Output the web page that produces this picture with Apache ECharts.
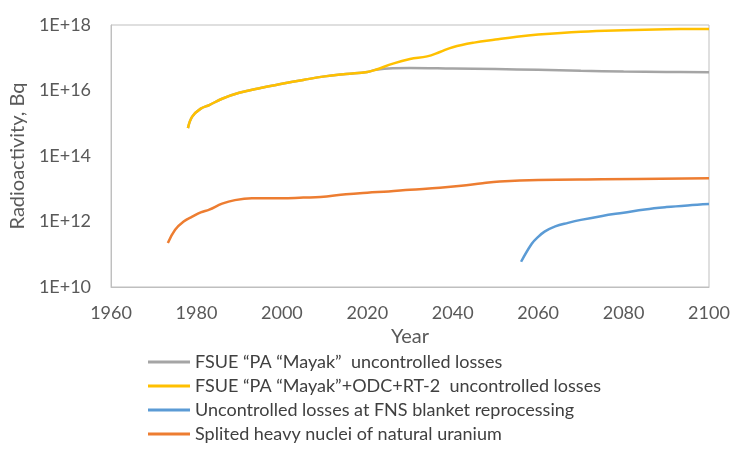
<!DOCTYPE html>
<html>
<head>
<meta charset="utf-8">
<script src="https://cdn.jsdelivr.net/npm/echarts@6/dist/echarts.min.js"></script>
<style>
  html, body { margin: 0; padding: 0; background: #fff; }
  #chart { width: 733px; height: 450px; }
</style>
</head>
<body>
<div id="chart"></div>
<script>
// Series names (legend order)
const seriesNames = [
  'FSUE \u201cPA \u201cMayak\u201d  uncontrolled losses',
  'FSUE \u201cPA \u201cMayak\u201d+ODC+RT-2  uncontrolled losses',
  'Uncontrolled losses at FNS blanket reprocessing',
  'Splited heavy nuclei of natural uranium'
];

// FSUE "PA "Mayak" uncontrolled losses, Bq
const mayakYears = [1978, 1979, 1981, 1983, 1986, 1990, 1995, 2000, 2005, 2010, 2015, 2020, 2022, 2026, 2030, 2040, 2050, 2060, 2070, 2080, 2090, 2100];
const mayakValues = [7.1e14, 1.6e15, 2.8e15, 3.6e15, 5.6e15, 8.5e15, 1.2e16, 1.6e16, 2.1e16, 2.7e16, 3.2e16, 3.7e16, 4.3e16, 4.8e16, 4.9e16, 4.7e16, 4.5e16, 4.3e16, 4.0e16, 3.8e16, 3.7e16, 3.6e16];

// FSUE "PA "Mayak"+ODC+RT-2 uncontrolled losses, Bq
const totalYears = [1978, 1979, 1981, 1983, 1986, 1990, 1995, 2000, 2005, 2010, 2015, 2020, 2022, 2026, 2030, 2034, 2037, 2040, 2045, 2050, 2055, 2060, 2070, 2080, 2090, 2100];
const totalValues = [7.1e14, 1.6e15, 2.8e15, 3.6e15, 5.6e15, 8.5e15, 1.2e16, 1.6e16, 2.1e16, 2.7e16, 3.2e16, 3.7e16, 4.3e16, 6.6e16, 9.1e16, 1.1e17, 1.5e17, 2.1e17, 2.9e17, 3.6e17, 4.4e17, 5.1e17, 6.2e17, 6.9e17, 7.4e17, 7.6e17];

// Uncontrolled losses at FNS blanket reprocessing, Bq
const fnsYears = [2056, 2058.5, 2060, 2061.5, 2064, 2067, 2070, 2075, 2080, 2085, 2090, 2095, 2100];
const fnsValues = [5.9e10, 2.1e11, 3.4e11, 4.9e11, 7.1e11, 9.1e11, 1.12e12, 1.48e12, 1.86e12, 2.34e12, 2.75e12, 3.1e12, 3.4e12];

// Splited heavy nuclei of natural uranium, Bq
const uraniumYears = [1973.3, 1975, 1977, 1979, 1981, 1983, 1986, 1989, 1993, 2000, 2005, 2009, 2015, 2020, 2025, 2030, 2037, 2042, 2047, 2051, 2060, 2075, 2100];
const uraniumValues = [2.2e11, 5.6e11, 1.0e12, 1.4e12, 1.9e12, 2.3e12, 3.5e12, 4.5e12, 5.1e12, 5.1e12, 5.4e12, 5.6e12, 6.8e12, 7.6e12, 8.3e12, 9.3e12, 1.07e13, 1.23e13, 1.48e13, 1.66e13, 1.86e13, 1.95e13, 2.1e13];

// Axis ranges
const xMin = 1960, xMax = 2100, xStep = 20;
const yMin = 1e10, yMax = 1e18;

const pair = (xs, ys) => xs.map((x, i) => [x, ys[i]]);

const FONT = 'Lato, "Open Sans", sans-serif';
const colors = ['#a5a5a5', '#ffc000', '#5b9bd5', '#ed7d31'];
const dataSets = [
  pair(mayakYears, mayakValues),
  pair(totalYears, totalValues),
  pair(fnsYears, fnsValues),
  pair(uraniumYears, uraniumValues)
];

const chart = echarts.init(document.getElementById('chart'), null, { renderer: 'canvas' });
chart.setOption({
  animation: false,
  backgroundColor: '#ffffff',
  color: colors,
  textStyle: { fontFamily: FONT },
  grid: {
    left: 108, right: 24, top: 25, bottom: 163,
    show: true, borderColor: '#bfbfbf', borderWidth: 1
  },
  xAxis: {
    type: 'value',
    min: xMin, max: xMax, interval: xStep,
    name: 'Year',
    nameLocation: 'middle',
    nameGap: 25,
    nameTextStyle: { color: '#595959', fontSize: 20, fontFamily: FONT },
    axisLine: { show: true, lineStyle: { color: '#bfbfbf' } },
    axisTick: { show: false },
    splitLine: { show: false },
    axisLabel: { color: '#595959', fontSize: 18, margin: 17, fontFamily: FONT, formatter: v => String(v) }
  },
  yAxis: {
    type: 'log',
    logBase: 10,
    min: yMin, max: yMax, interval: 2,
    name: 'Radioactivity, Bq',
    nameLocation: 'middle',
    nameGap: 79,
    nameTextStyle: { color: '#595959', fontSize: 20, fontFamily: FONT },
    axisLine: { show: true, lineStyle: { color: '#bfbfbf' } },
    axisTick: { show: false },
    splitLine: { show: false },
    axisLabel: {
      color: '#595959', fontSize: 18, margin: 20, fontFamily: FONT,
      formatter: v => '1E+' + Math.round(Math.log10(v))
    }
  },
  legend: {
    orient: 'vertical',
    left: 143,
    top: 348,
    height: 100,
    icon: 'rect',
    itemWidth: 42,
    itemHeight: 3,
    itemGap: 6,
    textStyle: { color: '#404040', fontSize: 18, fontFamily: FONT },
    data: seriesNames
  },
  series: seriesNames.map((name, i) => ({
    name: name,
    type: 'line',
    data: dataSets[i],
    smooth: 0.4,
    symbol: 'none',
    lineStyle: { width: 2.5, color: colors[i] },
    itemStyle: { color: colors[i] },
    z: i === 0 ? 2 : 3
  }))
});
</script>
</body>
</html>
